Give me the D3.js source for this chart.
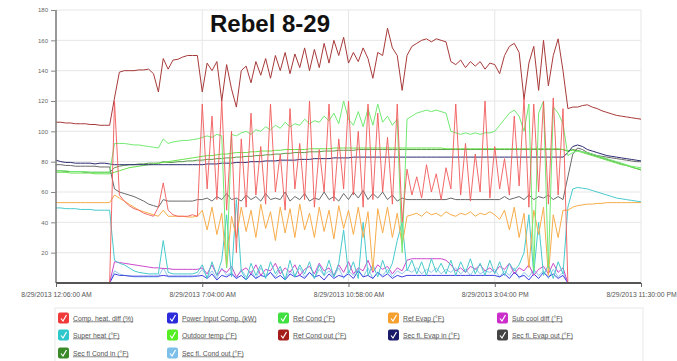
<!DOCTYPE html>
<html><head><meta charset="utf-8">
<script src="https://cdn.jsdelivr.net/npm/d3@7"></script>
<style>body{margin:0;background:#fff;} svg{display:block;font-family:"Liberation Sans",Arial,sans-serif;}</style>
</head><body>
<svg id="chart" width="677" height="361"></svg>
<script>
const title = "Rebel 8-29";
const xTickIndex = [0, 30, 60, 90, 120];
const xTickLabels = ["8/29/2013 12:06:00 AM", "8/29/2013 7:04:00 AM", "8/29/2013 10:58:00 AM", "8/29/2013 3:04:00 PM", "8/29/2013 11:30:00 PM"];
const yTicks = [20, 40, 60, 80, 100, 120, 140, 160, 180];

const refCondOut = [106,106,105.5,105.5,105,105,105,104.5,104.5,104,
104,104,122,139,140,140,140,140.5,140.5,141,
138,126,148,141,147,147.5,149,150,150,150,
126,145,140,146,120,144,128,116,140,143,
132,146,137,148,135,150,140,152,138,151,
142,155,140,154,142,158,145,160,150,162,
145,152,146,155,148,135,152,150,168,155,
150,127,150,156,158,160,161,159,161,160,
159,146,144,147,142,146,143,146,141,145,
144,138,150,156,158,152,121,145,156,127,
160,130,150,161,140,115,116,116,117,117.5,
116,115,113.5,112.5,111.5,110.5,110,109.5,109,108.5,
108];
const compHeatDiff = [0,0,0,0,0,0,0,0,0,0,
0,0,120,58,54,51,49,48,46,45,
44,50,66,48,45,44,44,44,45,44,
118,62,110,55,120,48,100,20,95,50,
112,58,90,52,118,60,85,48,115,62,
92,55,120,50,88,60,118,54,95,62,
120,58,100,50,118,55,112,60,96,52,
118,40,75,58,70,56,78,60,72,55,
76,62,118,58,92,54,85,60,120,56,
90,62,82,58,110,64,122,50,118,60,
120,52,122,58,115,0,0,0,0,0,
0,0,0,0,0,0,0,0,0,0,
0];
const refCond = [74,74,74,73.5,73.5,73.5,73.5,73,73,73,
73,73,92,92,92,91.5,91,91,90.5,90,
89.5,89,95,92,93,93.5,94,94,94.5,95,
96,97,96,98,97,10,98,97,99,100,
98,101,100,103,101,104,102,106,103,105,
104,108,105,107,106,110,107,112,105,120,
108,104,113,103,115,104,118,106,110,104,
108,20,108,110,112,113,114,113,114,113,
112,100,99,98,99,98,99,98,99,99,
100,104,108,112,114,110,100,118,8,112,
120,10,116,112,105,84,86,87,86.5,86,
85,84,83,82,81,80,79,78,77,76.5,
76];
const outdoorTemp = [73,73,73,72.5,72.5,72.5,72.5,72.5,72,72,
72,72,73,74,75,76,76.5,77,77.5,78,
78.5,79,79.5,80,80.5,81,81.5,82,82.5,83,
83.5,84,84,84.5,85,85,85.5,86,86,86,
86.5,86.5,87,87,87,87.5,87.5,88,88,88,
88,88,88.5,88.5,88.5,88.5,88.5,89,89,89,
89,89,89,89,89,89,89,89,89,89,
89,89,89,89,89,89,89,89,89,89,
88.5,88.5,88.5,88.5,88.5,88.5,88.5,88.5,88.5,88.5,
88.5,88.5,88.5,88.5,88.5,88.5,88.5,88.5,88.5,88.5,
88.5,88.5,88.5,88.5,88,87,87.5,87,86,85,
84,83,82,81,80,79,78,77.5,76.5,75.5,
75];
const secCondIn = [74,74,73.5,73.5,73.5,73.5,73,73,73,73,
73,73,76,77,77.5,78,78,78.5,78.5,79,
79,79,80,79.5,79.5,80,80,80.5,80.5,81,
81,81.5,81.5,82,82,82.5,82.5,83,83,83.5,
83.5,84,84,84.5,84.5,85,85,85.5,85.5,86,
86,86,86.5,86.5,86.5,87,87,87,87.5,87.5,
87.5,87.5,88,88,88,88,88,88,88,88,
88,88,88,88,88,88,88,88,88,88,
88,88,88,88,88,88,88,88,88,88,
88,88,88,88,88,88,88,88,88,88,
88,88,88,88,88,87,88,87.5,86.5,85.5,
84.5,83.5,82.5,81.5,80.5,79.5,78.5,77.5,76.5,75.5,
74.5];
const secEvapIn = [81,80,79.5,79.5,79,79,79,79,78.5,79,
79,78.5,78,78,78,78,78,78,78,78,
78,78,78,78,78,78,78,78,78,78,
78,78.5,78.5,78.5,79,79,79,79.5,79.5,79.5,
80,80,80,80.5,80.5,80.5,81,81,81,81,
81.5,81.5,81.5,82,82,82,82,82.5,82.5,82.5,
82.5,83,83,83,83,83,83,83,83,83,
83,83,83,83,83,83,83,83,83,83,
83,83,83,83,83,83,83,83,83,83,
83,83,83,83,83,83,83,83,83,83,
83,83,83,83,83,86,90,91,90,88,
87,86,85,84,83.5,83,82.5,82,81.5,81,
80.5];
const secEvapOut = [78,78,77.5,77.5,77,77,77,77,77,76.5,
76.5,76.5,62,60,59,58,57,55.5,54,52,
51,50,55,54,54,54,54,54,54,55,
55,56,54,57,55,59,55,56,54,58,
55,57,54,59,55,56,55,60,54,57,
55,59,54,56,55,60,55,57,54,59,
55,60,56,61,55,59,56,60,55,58,
54,56,55,55,55,55,55,55,55,55,
55,56,55,55,55,55,55,55,55,55,
55,55,57,55,56,57,55,58,55,57,
56,58,55,57,55,70,85,89,88,86,
85,84,83.5,83,82.5,82,81.5,81,80.5,80,
80];
const refEvap = [53,53,53,53,53,53,53,53,53,53,
53,53,58,56,54,52,50,48,47,46,
45,44,48,44,44,44,44,43.5,43.5,44,
48,35,50,32,46,10,44,30,50,34,
48,30,52,36,47,28,50,33,49,30,
52,35,46,30,50,34,48,29,51,36,
48,32,50,30,47,8,49,33,50,30,
46,25,44,45,46,44,47,45,46,44,
47,45,44,46,45,47,44,46,45,47,
45,42,48,35,50,30,46,10,48,32,
50,5,45,30,48,48,50,51,51.5,52,
52,52.5,52.5,53,53,53,53,53,53,53,
53];
const superHeat = [49.5,49.5,49,49,49,48.5,48.5,48.5,48,48,
48,48,15,13,12,10,8,7,6.5,6,
6,6,28,7,6,6,6,6,6,7,
12,3,14,5,15,45,4,55,8,2,
13,5,12,3,14,6,11,2,15,4,
12,6,14,3,12,5,15,4,13,35,
6,14,3,40,5,12,4,15,6,13,
28,40,8,15,6,14,5,16,7,13,
6,15,5,14,7,16,6,13,5,15,
6,14,5,13,8,12,20,45,6,40,
5,12,3,14,6,50,62,63,62.5,62,
61,60,59,58,57,56,55.5,55,54.5,54,
53.5];
const powerInput = [0,0,0,0,0,0,0,0,0,0,
0,0,6,5,5,4.5,4.5,4.5,4.5,4.5,
4.5,4.5,5,4.5,4.5,4.5,4.5,4.5,4.5,4.5,
5,3,6,2,5,4,6,3,5,2,
6,3,5,4,7,3,5,2,6,4,
5,3,7,4,5,2,6,3,5,4,
6,3,8,4,5,3,7,4,6,3,
5,4,5,5,5,5,5,5,5,5,
5,5,5,5,5,5,5,5,5,5,
5,4,6,3,7,4,5,2,6,3,
7,4,6,3,5,0,0,0,0,0,
0,0,0,0,0,0,0,0,0,0,
0];
const subCool = [0,0,0,0,0,0,0,0,0,0,
0,0,14,13.5,13,12.5,12,11.5,11,10.5,
10,10,9.5,9.5,9,9,9,9,9,9,
10,6,12,5,9,7,11,4,8,10,
6,12,5,9,8,13,6,10,7,12,
5,9,11,6,13,8,10,5,12,7,
14,6,10,8,15,7,12,9,11,6,
10,8,15,16,16,16,16,16,16,16,
15,12,8,10,7,11,9,12,8,10,
7,11,9,13,6,10,8,12,5,9,
11,6,13,7,10,0,0,0,0,0,
0,0,0,0,0,0,0,0,0,0,
0];
const secCondOut = [0,0,0,0,0,0,0,0,0,0,
0,0,8,6,5,5,4,4,4,4,
4,4,10,4,4,4,4,4,4,5,
9,4,8,3,10,5,7,3,9,4,
8,3,10,5,7,4,9,3,8,5,
10,4,7,3,9,5,8,4,10,3,
8,5,9,4,10,3,7,5,9,4,
8,6,9,7,10,6,9,7,10,6,
9,7,10,6,9,5,10,6,8,7,
9,4,8,5,10,3,7,4,9,5,
8,3,9,4,7,0,0,0,0,0,
0,0,0,0,0,0,0,0,0,0,
0];

const seriesNames = ["Comp. heat. diff (%)", "Power Input Comp. (kW)", "Ref Cond (°F)", "Ref Evap (°F)", "Sub cool diff (°F)",
  "Super heat (°F)", "Outdoor temp (°F)", "Ref Cond out (°F)", "Sec fl. Evap in (°F)", "Sec fl. Evap out (°F)",
  "Sec fl Cond in (°F)", "Sec fl. Cond out (°F)"];
const seriesValues = [compHeatDiff, powerInput, refCond, refEvap, subCool, superHeat, outdoorTemp, refCondOut, secEvapIn, secEvapOut, secCondIn, secCondOut];
const seriesColors = ["#f03a3a", "#2b2bdc", "#3fe03f", "#f5a02e", "#cc2ecc", "#2ec8cc", "#55ee22", "#a51c1c", "#1a1a6a", "#444444", "#3a8a2a", "#7cc0ea"];
const lineColors = ["#f25a5a", "#4040e0", "#72ea72", "#f7ac4a", "#cc48cc", "#48cacd", "#66e24a", "#a83a3a", "#2c2c72", "#6a6a6a", "#5a9a4a", "#90c8ec"];
const drawOrder = [11, 1, 4, 5, 10, 6, 8, 9, 3, 2, 7, 0];

(function () {
const svg = d3.select("#chart");
const pL = 56, pR = 641, pT = 10, pB = 283;
const x = d3.scaleLinear().domain([0, 120]).range([pL, pR]);
const y = d3.scaleLinear().domain([0, 180]).range([pB, pT]);

svg.append("g").selectAll("line").data(yTicks).join("line")
  .attr("x1", pL).attr("x2", pR).attr("y1", d => y(d)).attr("y2", d => y(d))
  .attr("stroke", "#e6e6e6").attr("stroke-width", 1);
svg.append("g").selectAll("line").data(xTickIndex.slice(1)).join("line")
  .attr("x1", d => x(d)).attr("x2", d => x(d)).attr("y1", pT).attr("y2", pB)
  .attr("stroke", "#e6e6e6").attr("stroke-width", 1);

const line = d3.line().x((d, i) => x(i)).y(d => y(d));
const lg = svg.append("g");
drawOrder.forEach(k => {
  lg.append("path").datum(seriesValues[k]).attr("d", line)
    .attr("fill", "none").attr("stroke", lineColors[k])
    .attr("stroke-width", 1).attr("stroke-linejoin", "round")
    .attr("stroke-opacity", k === 0 ? 0.9 : 1);
});

const yAxis = d3.axisLeft(y).tickValues(yTicks).tickSize(5).tickPadding(3);
const ya = svg.append("g").attr("transform", `translate(${pL},0)`).call(yAxis);
ya.select(".domain").attr("stroke", "#777").attr("stroke-width", 1.5).attr("d", `M0,${pT}V${pB}`);
ya.selectAll(".tick line").attr("stroke", "#888");
ya.selectAll("text").attr("fill", "#666").style("font-size", "6px");

const xAxis = d3.axisBottom(x).tickValues(xTickIndex).tickFormat((d, i) => xTickLabels[i]).tickSize(4).tickPadding(5);
const xa = svg.append("g").attr("transform", `translate(0,${pB})`).call(xAxis);
xa.select(".domain").attr("stroke", "#555").attr("stroke-width", 2).attr("d", `M${pL},0H${pR}`);
xa.selectAll(".tick line").attr("stroke", "#666");
xa.selectAll("text").attr("fill", "#555").style("font-size", "6.8px");

svg.append("text").attr("x", 210).attr("y", 32).text(title)
  .attr("font-weight", "bold").attr("font-size", "24px").attr("fill", "#111");

svg.append("rect").attr("x", 55).attr("y", 308).attr("width", 588).attr("height", 60)
  .attr("fill", "none").attr("stroke", "#e8e8e8");
const colX = [58, 167, 278, 388, 497];
const rowY = [318, 335, 353];
const leg = svg.append("g").selectAll("g").data(seriesNames).join("g")
  .attr("transform", (d, i) => `translate(${colX[i % 5]},${rowY[Math.floor(i / 5)]})`);
leg.append("rect").attr("x", 0).attr("y", -5.5).attr("width", 11).attr("height", 11).attr("rx", 2)
  .attr("fill", (d, i) => seriesColors[i]);
leg.append("path").attr("d", "M3,0.5 L5,3 L8.5,-3").attr("fill", "none").attr("stroke", "#fff").attr("stroke-width", 1.2);
leg.append("text").attr("x", 15).attr("y", 2.5).text(d => d)
  .attr("font-size", "6.8px").attr("fill", "#555").attr("text-decoration", "underline");
})();
</script>
</body></html>
